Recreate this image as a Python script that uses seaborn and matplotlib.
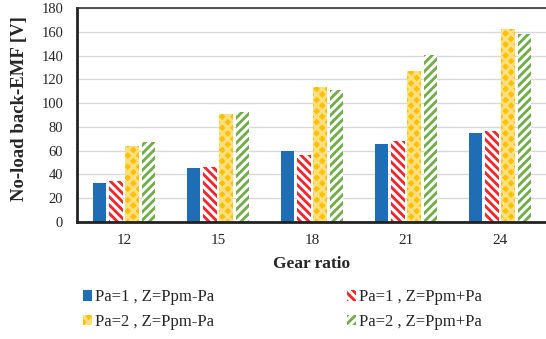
import matplotlib
matplotlib.use("Agg")
import matplotlib.pyplot as plt
from matplotlib.patches import Patch
import seaborn as sns
import pandas as pd

gear_ratios = ["12", "15", "18", "21", "24"]
series_names = ["Pa=1 , Z=Ppm-Pa", "Pa=1 , Z=Ppm+Pa", "Pa=2 , Z=Ppm-Pa", "Pa=2 , Z=Ppm+Pa"]
pa1_minus = [32.8, 45.4, 60.0, 65.9, 74.8]
pa1_plus = [34.5, 46.5, 56.0, 68.4, 76.8]
pa2_minus = [64.2, 90.5, 113.5, 127.0, 162.6]
pa2_plus = [67.5, 92.8, 111.3, 140.1, 157.8]
y_ticks = [0, 20, 40, 60, 80, 100, 120, 140, 160, 180]

colors = ["#1F6DB5", "#F5242A", "#FFC000", "#70AD47"]
hatch_colors = [None, "white", "#FFDF80", "white"]
hatches = [None, "\\\\\\\\", "xxx", "////"]

rows = []
for name, vals in zip(series_names, [pa1_minus, pa1_plus, pa2_minus, pa2_plus]):
    for g, v in zip(gear_ratios, vals):
        rows.append({"Gear ratio": g, "EMF": v, "Series": name})
df = pd.DataFrame(rows)

sns.set_style("white")
plt.rcParams["font.family"] = ["Liberation Serif", "DejaVu Serif"]
plt.rcParams["hatch.linewidth"] = 2.2

fig = plt.figure(figsize=(5.46, 3.39), dpi=100)
ax = fig.add_axes([77 / 546, (339 - 222) / 339, 470 / 546, 214 / 339])

sns.barplot(data=df, x="Gear ratio", y="EMF", hue="Series", order=gear_ratios,
            hue_order=series_names, palette=colors, width=0.69, gap=0.18,
            ax=ax, legend=False, saturation=1, linewidth=0)

for i, cont in enumerate(ax.containers):
    for p in cont:
        if hatches[i]:
            p.set_hatch(hatches[i])
            p.set_edgecolor(hatch_colors[i])
            p.set_linewidth(0)

ax.set_ylim(0, 180)
ax.set_xlim(-0.5, 4.5)
ax.set_yticks(y_ticks)
ax.yaxis.grid(True, color="#D9D9D9", linewidth=1)
ax.set_axisbelow(True)

ax.set_xticks(range(5))
ax.set_xticklabels(gear_ratios)
ax.set_xticks([i - 0.5 for i in range(6)], minor=True)
ax.tick_params(axis="x", which="major", length=0, labelsize=11, pad=9)
ax.tick_params(axis="x", which="minor", length=7, width=1.2, direction="inout", color="#333333")
ax.tick_params(axis="y", which="major", length=6, width=1.2, direction="inout", labelsize=10.5, pad=7, color="#333333")

for side in ["left", "bottom"]:
    ax.spines[side].set_linewidth(2)
    ax.spines[side].set_color("#222222")
ax.spines["top"].set_linewidth(1.2)
ax.spines["top"].set_color("#333333")
ax.spines["right"].set_visible(False)

ax.set_xlabel("Gear ratio", fontsize=12.5, fontweight="bold", labelpad=6)
ax.set_ylabel("No-load back-EMF [V]", fontsize=13.5, fontweight="bold")
ax.yaxis.set_label_coords(-0.104, 0.528)

handles = []
for i, name in enumerate(series_names):
    handles.append(Patch(facecolor=colors[i], edgecolor=hatch_colors[i] or colors[i],
                         hatch=hatches[i], linewidth=0, label=name))
order = [0, 2, 1, 3]
fig.legend(handles=[handles[k] for k in order], labels=[series_names[k] for k in order],
           ncol=2, loc="upper left",
           bbox_to_anchor=(75 / 546, 1 - 281 / 339), frameon=False, fontsize=12,
           borderpad=0, handlelength=0.5, handleheight=0.6, handletextpad=0.2,
           columnspacing=8.0, labelspacing=0.5)

fig.savefig("out.png", dpi=100)
